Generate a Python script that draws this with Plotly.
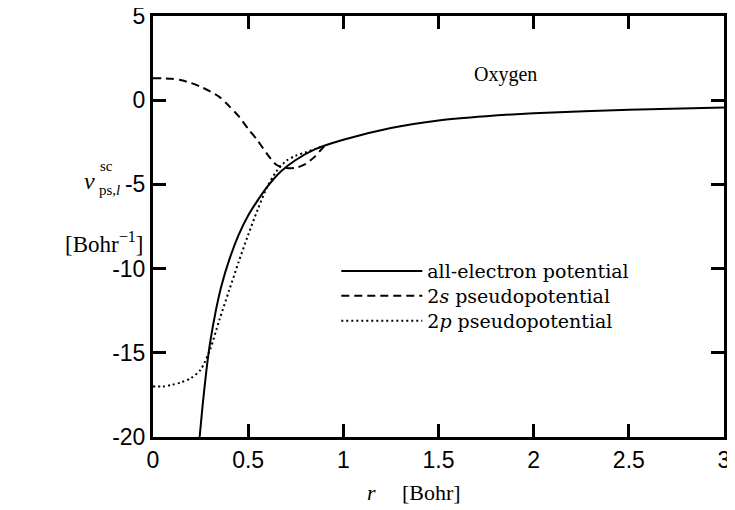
import plotly.graph_objects as go

# All-electron potential
r_ae = [0.245, 0.26, 0.28, 0.30, 0.33, 0.36, 0.40, 0.45, 0.50, 0.55, 0.60, 0.67, 0.75, 0.85, 1.0, 1.25, 1.5, 1.75, 2.0, 2.5, 3.0]
v_ae = [-20, -18.2, -16.1, -14.4, -12.5, -11.0, -9.5, -8.0, -6.85, -5.95, -5.15, -4.25, -3.55, -2.92, -2.35, -1.65, -1.2, -0.95, -0.78, -0.57, -0.43]

# 2s pseudopotential
r_2s = [0, 0.05, 0.1, 0.15, 0.2, 0.25, 0.3, 0.35, 0.4, 0.45, 0.5, 0.55, 0.6, 0.65, 0.7, 0.75, 0.8, 0.85, 0.9]
v_2s = [1.3, 1.3, 1.27, 1.18, 1.02, 0.8, 0.52, 0.18, -0.35, -0.95, -1.7, -2.4, -3.2, -3.85, -4.02, -4.02, -3.8, -3.35, -2.72]

# 2p pseudopotential
r_2p = [0, 0.05, 0.1, 0.15, 0.2, 0.25, 0.3, 0.35, 0.4, 0.45, 0.5, 0.55, 0.6, 0.65, 0.7, 0.75, 0.8, 0.85, 0.9]
v_2p = [-17, -17, -16.9, -16.75, -16.5, -16.0, -14.8, -13.0, -11.3, -9.6, -8.0, -6.5, -5.15, -4.2, -3.6, -3.3, -3.1, -2.9, -2.7]

x_ticks = [0, 0.5, 1, 1.5, 2, 2.5, 3]
x_ticktext = ["0", "0.5", "1", "1.5", "2", "2.5", "3"]
y_ticks = [5, 0, -5, -10, -15, -20]
y_ticktext = ["5", "0", "-5", "-10", "-15", "-20"]

series_names = ["all-electron potential", "2<i>s</i> pseudopotential", "2<i>p</i> pseudopotential"]

SERIF = "Liberation Serif"
LEGSERIF = "DejaVu Serif"
SANS = "Liberation Sans"

fig = go.Figure()
fig.add_trace(go.Scatter(x=r_ae, y=v_ae, mode="lines", name=series_names[0], legend="legend",
                         line=dict(color="black", width=2, shape="spline", smoothing=0.8)))
fig.add_trace(go.Scatter(x=r_2s, y=v_2s, mode="lines", name=series_names[1], legend="legend2",
                         line=dict(color="black", width=2, dash="8px,5px", shape="spline", smoothing=0.8)))
fig.add_trace(go.Scatter(x=r_2p, y=v_2p, mode="lines", name=series_names[2], legend="legend3",
                         line=dict(color="black", width=2, dash="2px,3px", shape="spline", smoothing=0.8)))

axis_common = dict(showgrid=False, zeroline=False, showline=True, linecolor="black", linewidth=3,
                   mirror="ticks", ticks="inside", ticklen=13, tickwidth=3, tickcolor="black",
                   ticklabeloverflow="allow", automargin=False,
                   tickfont=dict(family=SANS, size=23, color="black"))

legend_common = dict(x=0.321, xanchor="left", yanchor="middle", bgcolor="rgba(0,0,0,0)",
                     font=dict(family=LEGSERIF, size=19, color="black"), itemwidth=81,
                     borderwidth=0)

fig.update_layout(
    width=727, height=502,
    margin=dict(l=145, r=11, t=8, b=73, autoexpand=False),
    paper_bgcolor="white", plot_bgcolor="white",
    xaxis=dict(range=[0, 3], tickvals=x_ticks, ticktext=x_ticktext, **axis_common),
    yaxis=dict(range=[-20, 5], tickvals=y_ticks, ticktext=y_ticktext, **axis_common),
    legend=dict(y=0.394, **legend_common),
    legend2=dict(y=0.335, **legend_common),
    legend3=dict(y=0.276, **legend_common),
    showlegend=True,
)

ann = [
    dict(text="Oxygen", x=0.618, y=0.86, font=dict(family=SERIF, size=20)),
    dict(text="<i>v</i>", x=-0.112, y=0.607, font=dict(family=SERIF, size=24)),
    dict(text="sc", x=-0.081, y=0.644, font=dict(family=SERIF, size=15)),
    dict(text="ps,<i>l</i>", x=-0.077, y=0.587, font=dict(family=SERIF, size=15)),
    dict(text="[Bohr<sup>−1</sup>]", x=-0.086, y=0.461, font=dict(family=SERIF, size=23)),
    dict(text="<i>r</i>", x=0.3835, y=-0.133, font=dict(family=SERIF, size=22)),
    dict(text="[Bohr]", x=0.487, y=-0.133, font=dict(family=SERIF, size=22)),
]
for a in ann:
    fig.add_annotation(xref="paper", yref="paper", showarrow=False, xanchor="center", yanchor="middle",
                       font_color="black", **a)

fig.write_html("out.html")
